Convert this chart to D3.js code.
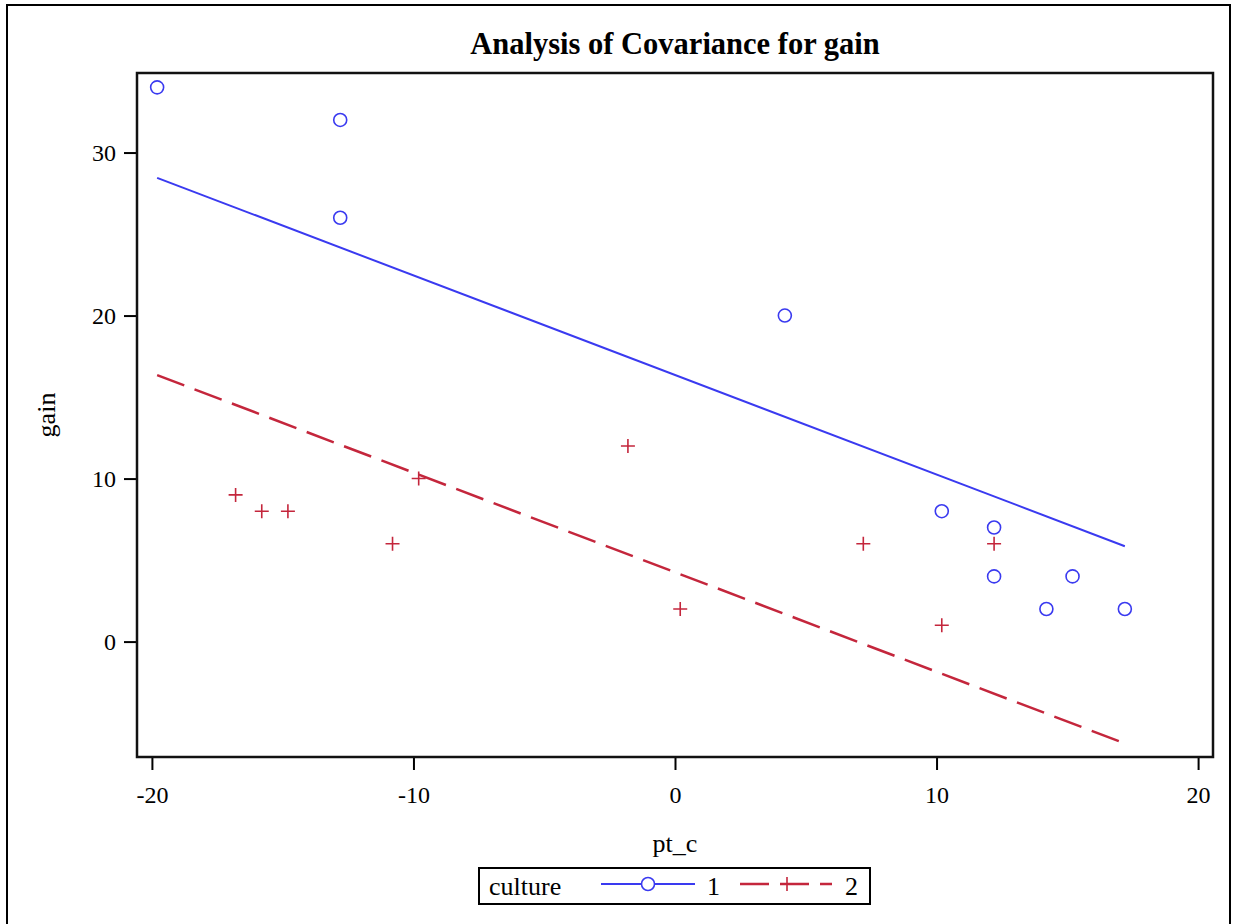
<!DOCTYPE html>
<html lang="en">

<head>
  <script src="https://d3js.org/d3.v7.min.js"></script>
  <meta charset="UTF-8">
  <title>Analysis of Covariance for gain</title>
  <style>
    body {
      margin: 0;
      background: #fff;
    }

    svg text {
      font-family: "Liberation Serif", "Times New Roman", serif;
      fill: #000;
    }

    .axis .domain {
      display: none;
    }

    .axis line {
      stroke: #000;
      stroke-width: 2;
    }
  </style>
</head>

<body>
  <svg id="chart" width="1235" height="924"></svg>
  <script>
    // culture 1 observations (circles)
    const c1X = [-19.8, -12.8, -12.8, 4.2, 10.2, 12.2, 12.2, 15.2, 14.2, 17.2];
    const c1Y = [34, 32, 26, 20, 8, 7, 4, 4, 2, 2];
    // culture 2 observations (plus)
    const c2X = [-16.8, -15.8, -14.8, -10.8, -9.8, -1.8, 0.2, 7.2, 10.2, 12.2];
    const c2Y = [9, 8, 8, 6, 10, 12, 2, 6, 1, 6];
    // fitted lines, endpoints
    const fitX = [-19.8, 17.2];
    const fit1Y = [28.45, 5.85];
    const fit2Y = [16.35, -6.25];

    const xTicks = [-20, -10, 0, 10, 20];
    const yTicks = [0, 10, 20, 30];

    const svg = d3.select("#chart");
    const plot = { left: 137, top: 73, right: 1213, bottom: 757 };

    const blue = "#3a3af0";
    const red = "#c4263c";

    const x = d3.scaleLinear().domain([-20.57, 20.57]).range([plot.left, plot.right]);
    const y = d3.scaleLinear().domain([-7.08, 34.88]).range([plot.bottom, plot.top]);

    // outer frame
    svg.append("rect")
      .attr("x", 7).attr("y", 5)
      .attr("width", 1223).attr("height", 930)
      .attr("fill", "none").attr("stroke", "#000").attr("stroke-width", 2);

    // title
    svg.append("text")
      .attr("x", (plot.left + plot.right) / 2)
      .attr("y", 54)
      .attr("text-anchor", "middle")
      .style("font-size", "30.5px")
      .style("font-weight", "bold")
      .text("Analysis of Covariance for gain");

    // axes (plain hyphen for negatives, like the original)
    const fmt = d => String(d);
    svg.append("g")
      .attr("class", "axis")
      .attr("transform", `translate(0,${plot.bottom})`)
      .call(d3.axisBottom(x).tickValues(xTicks).tickFormat(fmt).tickSize(13).tickPadding(16))
      .selectAll("text").style("font-size", "24px");

    svg.append("g")
      .attr("class", "axis")
      .attr("transform", `translate(${plot.left},0)`)
      .call(d3.axisLeft(y).tickValues(yTicks).tickFormat(fmt).tickSize(13).tickPadding(8))
      .selectAll("text").style("font-size", "24px");

    svg.append("text")
      .attr("x", (plot.left + plot.right) / 2)
      .attr("y", 852)
      .attr("text-anchor", "middle")
      .style("font-size", "26px")
      .text("pt_c");

    svg.append("text")
      .attr("transform", `translate(55,${(plot.top + plot.bottom) / 2}) rotate(-90)`)
      .attr("text-anchor", "middle")
      .style("font-size", "26px")
      .text("gain");

    // plot frame
    svg.append("rect")
      .attr("x", plot.left).attr("y", plot.top)
      .attr("width", plot.right - plot.left).attr("height", plot.bottom - plot.top)
      .attr("fill", "none").attr("stroke", "#111").attr("stroke-width", 2.5);

    // fit lines
    const lineGen = d3.line().x(d => x(d[0])).y(d => y(d[1]));
    svg.append("path")
      .attr("d", lineGen(d3.zip(fitX, fit1Y)))
      .attr("fill", "none").attr("stroke", blue).attr("stroke-width", 2);
    svg.append("path")
      .attr("d", lineGen(d3.zip(fitX, fit2Y)))
      .attr("fill", "none").attr("stroke", red).attr("stroke-width", 2.5)
      .attr("stroke-dasharray", "29,11");

    // markers
    const plusPath = "M-7,0H7M0,-7V7";
    svg.append("g").selectAll("circle")
      .data(d3.zip(c1X, c1Y))
      .join("circle")
      .attr("cx", d => x(d[0]))
      .attr("cy", d => y(d[1]))
      .attr("r", 6.5)
      .attr("fill", "none").attr("stroke", blue).attr("stroke-width", 1.6);

    svg.append("g").selectAll("path")
      .data(d3.zip(c2X, c2Y))
      .join("path")
      .attr("transform", d => `translate(${x(d[0])},${y(d[1])})`)
      .attr("d", plusPath)
      .attr("fill", "none").attr("stroke", red).attr("stroke-width", 1.6);

    // legend
    const legend = svg.append("g");
    legend.append("rect")
      .attr("x", 479).attr("y", 868).attr("width", 391).attr("height", 36)
      .attr("fill", "#fff").attr("stroke", "#000").attr("stroke-width", 2);
    legend.append("text").attr("x", 489).attr("y", 895).style("font-size", "26px").text("culture");
    legend.append("line")
      .attr("x1", 601).attr("x2", 695).attr("y1", 884).attr("y2", 884)
      .attr("stroke", blue).attr("stroke-width", 2);
    legend.append("circle")
      .attr("cx", 648).attr("cy", 884).attr("r", 6.5)
      .attr("fill", "#fff").attr("stroke", blue).attr("stroke-width", 1.6);
    legend.append("text").attr("x", 707).attr("y", 895).style("font-size", "26px").text("1");
    legend.append("line")
      .attr("x1", 740).attr("x2", 832).attr("y1", 884).attr("y2", 884)
      .attr("stroke", red).attr("stroke-width", 2.5).attr("stroke-dasharray", "29,11");
    legend.append("path")
      .attr("transform", "translate(787,884)")
      .attr("d", plusPath)
      .attr("fill", "none").attr("stroke", red).attr("stroke-width", 1.6);
    legend.append("text").attr("x", 845).attr("y", 895).style("font-size", "26px").text("2");
  </script>
</body>

</html>
